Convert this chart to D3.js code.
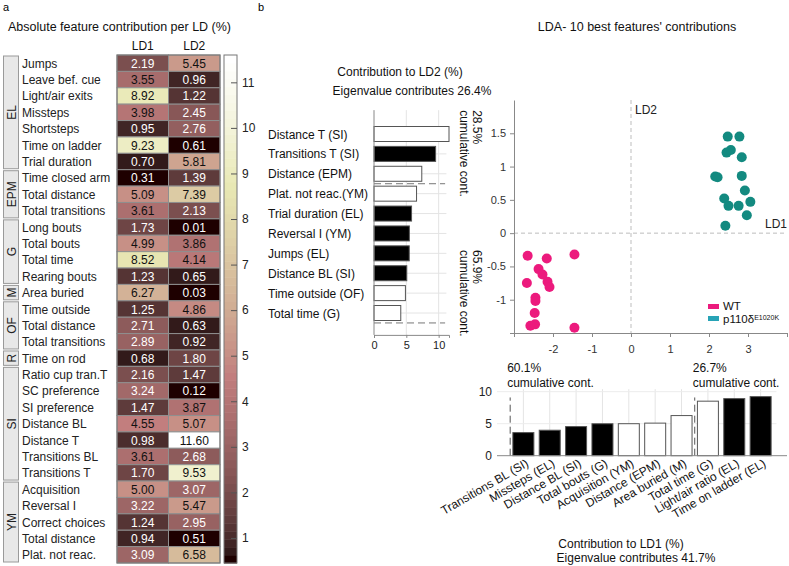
<!DOCTYPE html>
<html><head><meta charset="utf-8">
<script src="https://cdn.jsdelivr.net/npm/d3@7"></script>
<style>
html,body{margin:0;padding:0;background:#fff;}
svg{display:block;font-family:"Liberation Sans",Arial,sans-serif;}
</style></head>
<body>
<svg id="chart" width="789" height="566"></svg>
<script>
// ---------- DATA ----------
const hmFeatures = ["Jumps","Leave bef. cue","Light/air exits","Missteps","Shortsteps","Time on ladder","Trial duration",
  "Time closed arm","Total distance","Total transitions",
  "Long bouts","Total bouts","Total time","Rearing bouts",
  "Area buried",
  "Time outside","Total distance","Total transitions",
  "Time on rod",
  "Ratio cup tran.T","SC preference","SI preference","Distance BL","Distance T","Transitions BL","Transitions T",
  "Acquisition","Reversal I","Correct choices","Total distance","Plat. not reac."];
const hmLD1 = [2.19,3.55,8.92,3.98,0.95,9.23,0.70,0.31,5.09,3.61,1.73,4.99,8.52,1.23,6.27,1.25,2.71,2.89,0.68,2.16,3.24,1.47,4.55,0.98,3.61,1.70,5.00,3.22,1.24,0.94,3.09];
const hmLD2 = [5.45,0.96,1.22,2.45,2.76,0.61,5.81,1.39,7.39,2.13,0.01,3.86,4.14,0.65,0.03,4.86,0.63,0.92,1.80,1.47,0.12,3.87,5.07,11.60,2.68,9.53,3.07,5.47,2.95,0.51,6.58];
const hmGroups = ["EL","EPM","G","M","OF","R","SI","YM"];
const hmGroupSizes = [7,3,4,1,3,1,7,5];
const hmColumns = ["LD1","LD2"];
const cbTicks = [1,2,3,4,5,6,7,8,9,10,11];

const ld2Features = ["Distance T (SI)","Transitions T (SI)","Distance (EPM)","Plat. not reac.(YM)","Trial duration (EL)","Reversal I (YM)","Jumps (EL)","Distance BL (SI)","Time outside (OF)","Total time (G)"];
const ld2Values = [11.60,9.53,7.39,6.58,5.81,5.47,5.45,5.07,4.86,4.14];
const ld2Filled = [0,1,0,0,1,1,1,1,0,0];
const ld2Ticks = [0,5,10];

const ld1Features = ["Transitions BL (SI)","Missteps (EL)","Distance BL (SI)","Total bouts (G)","Acquisition (YM)","Distance (EPM)","Area buried (M)","Total time (G)","Light/air ratio (EL)","Time on ladder (EL)"];
const ld1Values = [3.61,3.98,4.55,4.99,5.00,5.09,6.27,8.52,8.92,9.23];
const ld1Filled = [1,1,1,1,0,0,0,0,1,1];
const ld1Ticks = [0,5,10];

const wtX = [-2.65,-2.16,-1.45,-2.37,-2.27,-2.67,-2.14,-2.09,-2.45,-2.45,-2.47,-2.58,-2.46,-1.45];
const wtY = [-0.34,-0.38,-0.32,-0.54,-0.62,-0.75,-0.73,-0.81,-0.97,-1.02,-1.20,-1.39,-1.37,-1.42];
const mutX = [2.48,2.78,2.45,2.56,2.84,2.16,2.22,2.84,2.92,2.39,2.50,2.76,3.06,2.97,2.42];
const mutY = [1.45,1.45,1.21,1.25,1.14,0.85,0.84,0.86,0.64,0.52,0.41,0.41,0.47,0.27,0.11];
const scXTicks = [-3,-2,-1,0,1,2,3,4];
const scYTicks = [-1.5,-1,-0.5,0,0.5,1,1.5];

// ---------- HELPERS ----------
const svg = d3.select("#chart");
const FONT = "12px";
function pinkColor(t){
  const m=64, n=24;
  const i = Math.max(0, Math.min(m-1, Math.floor(t*m)));
  const rh = i < n ? (i+1)/n : 1;
  const gh = i < n ? 0 : (i < 2*n ? (i-n+1)/n : 1);
  const bh = i < 2*n ? 0 : (i-2*n+1)/(m-2*n);
  const g = i/(m-1);
  const f = v => Math.round(255*Math.sqrt((2*g+v)/3));
  return `rgb(${f(rh)},${f(gh)},${f(bh)})`;
}

// panel letters & titles
svg.append("text").attr("x",3).attr("y",11).attr("font-size","11px").text("a");
svg.append("text").attr("x",258).attr("y",11).attr("font-size","11px").text("b");
svg.append("text").attr("x",8).attr("y",31).attr("font-size","12.5px").attr("fill","#111").text("Absolute feature contribution per LD (%)");
svg.append("text").attr("x",637).attr("y",31).attr("font-size","12.5px").attr("text-anchor","middle").attr("fill","#111").text("LDA- 10 best features' contributions");

// ---------- HEATMAP ----------
const hmTop = 55, hmBot = 563;
const rowY = d3.scaleBand().domain(d3.range(hmFeatures.length)).range([hmTop, hmBot]);
const colX = d3.scaleBand().domain(hmColumns).range([117, 220]);
const cVal = d3.scaleLinear().domain([0.45, 11.6]).range([0,1]).clamp(true);

const hm = svg.append("g");
[hmLD1, hmLD2].forEach((vals, ci) => {
  const col = hmColumns[ci];
  hm.selectAll(null).data(vals).enter().append("rect")
    .attr("x", colX(col)).attr("y", (d,i)=>rowY(i))
    .attr("width", colX.bandwidth()).attr("height", rowY.bandwidth())
    .attr("fill", d=>pinkColor(cVal(d))).attr("stroke","#8f8f8f").attr("stroke-width",1);
  hm.selectAll(null).data(vals).enter().append("text")
    .attr("x", colX(col)+colX.bandwidth()/2).attr("y", (d,i)=>rowY(i)+rowY.bandwidth()/2+4.5)
    .attr("text-anchor","middle").attr("font-size",FONT)
    .attr("fill", d=> d<3.5 ? "#fff" : "#111")
    .text(d=>d.toFixed(2));
});
hm.append("rect").attr("x",117).attr("y",hmTop).attr("width",103).attr("height",hmBot-hmTop)
  .attr("fill","none").attr("stroke","#777").attr("stroke-width",1);
hmColumns.forEach(c=>{
  hm.append("text").attr("x",colX(c)+colX.bandwidth()/2).attr("y",50).attr("text-anchor","middle")
    .attr("font-size",FONT).attr("fill","#111").text(c);
});
hm.selectAll(null).data(hmFeatures).enter().append("text")
  .attr("x",22).attr("y",(d,i)=>rowY(i)+rowY.bandwidth()/2+4.5)
  .attr("font-size",FONT).attr("fill","#222").text(d=>d);
// group boxes
let start = 0;
hmGroups.forEach((g,gi)=>{
  const n = hmGroupSizes[gi];
  const y0 = rowY(start)+1, y1 = rowY(start+n-1)+rowY.bandwidth()-1;
  hm.append("rect").attr("x",3.5).attr("y",y0).attr("width",15).attr("height",y1-y0)
    .attr("fill","#e8e8e8").attr("stroke","#9a9a9a").attr("stroke-width",1);
  const cy = (y0+y1)/2;
  hm.append("text").attr("transform",`translate(15.5,${cy}) rotate(-90)`)
    .attr("text-anchor","middle").attr("font-size",FONT).attr("fill","#222").text(g);
  start += n;
});
// colorbar
const cbY = d3.scaleLinear().domain([0.45, 11.6]).range([hmBot, hmTop]);
const nLev = 64;
const cb = svg.append("g");
d3.range(nLev).forEach(k=>{
  const v0 = 0.45 + (11.6-0.45)*k/nLev, v1 = 0.45 + (11.6-0.45)*(k+1)/nLev;
  cb.append("rect").attr("x",224).attr("y",cbY(v1)).attr("width",13).attr("height",cbY(v0)-cbY(v1)+0.5)
    .attr("fill",pinkColor((k+0.5)/nLev));
});
cb.append("rect").attr("x",224).attr("y",hmTop).attr("width",13).attr("height",hmBot-hmTop)
  .attr("fill","none").attr("stroke","#777");
const cbAxis = cb.append("g").attr("transform","translate(237,0)")
  .call(d3.axisRight(cbY).tickValues(cbTicks).tickSize(-6).tickPadding(5).tickFormat(d=>String(d)));
cbAxis.select(".domain").remove();
cbAxis.selectAll("line").attr("stroke","#555");
cbAxis.selectAll("text").attr("font-size",FONT).attr("fill","#222").attr("font-family","Liberation Sans,Arial,sans-serif");

// ---------- LD2 BAR CHART ----------
const b2x = d3.scaleLinear().domain([0, 11.6]).range([374, 449]);
const b2y = d3.scaleLinear().domain([0, 9]).range([134, 313]);
const b2top = b2y(-1.2), b2bot = b2y(10.1);
const g2 = svg.append("g");
ld2Ticks.filter(t=>t>0).forEach(t=>{
  g2.append("line").attr("x1",b2x(t)).attr("x2",b2x(t)).attr("y1",b2top).attr("y2",b2bot).attr("stroke","#e4e4e4");
});
ld2Values.forEach((v,i)=>{
  g2.append("line").attr("x1",b2x(0)).attr("x2",b2x(11.2)).attr("y1",b2y(i)).attr("y2",b2y(i)).attr("stroke","#e4e4e4");
});
g2.selectAll(null).data(ld2Values).enter().append("rect")
  .attr("x",b2x(0)).attr("y",(d,i)=>b2y(i)-7.5).attr("width",d=>b2x(d)-b2x(0)).attr("height",15)
  .attr("fill",(d,i)=>ld2Filled[i]?"#000":"#fff").attr("stroke","#555").attr("stroke-width",1);
[2.5, 9.5].forEach(p=>{
  g2.append("line").attr("x1",b2x(0)).attr("x2",b2x(11)).attr("y1",b2y(p)).attr("y2",b2y(p))
    .attr("stroke","#777").attr("stroke-dasharray","7,4");
});
g2.append("line").attr("x1",b2x(0)).attr("x2",b2x(0)).attr("y1",b2top).attr("y2",b2bot).attr("stroke","#888");
const b2axis = g2.append("g").attr("transform",`translate(0,${b2bot})`)
  .call(d3.axisBottom(b2x).tickValues(ld2Ticks).tickSize(3).tickPadding(3).tickFormat(d=>String(d)));
b2axis.select(".domain").attr("stroke","#888");
b2axis.selectAll("line").attr("stroke","#888");
b2axis.selectAll("text").attr("font-size","11px").attr("fill","#222").attr("font-family","Liberation Sans,Arial,sans-serif");
g2.selectAll(null).data(ld2Features).enter().append("text")
  .attr("x",268).attr("y",(d,i)=>b2y(i)+4.5).attr("font-size",FONT).attr("fill","#111").text(d=>d);
g2.append("text").attr("x",400).attr("y",76).attr("text-anchor","middle").attr("font-size",FONT).attr("fill","#111").text("Contribution to LD2 (%)");
g2.append("text").attr("x",412).attr("y",95).attr("text-anchor","middle").attr("font-size",FONT).attr("fill","#111").text("Eigenvalue contributes 26.4%");
[[b2top, "28.5%"], [250, "65.9%"]].forEach(([yy, txt])=>{
  g2.append("text").attr("transform",`translate(473,${yy}) rotate(90)`).attr("font-size",FONT).attr("fill","#111").text(txt);
  g2.append("text").attr("transform",`translate(460,${yy}) rotate(90)`).attr("font-size",FONT).attr("fill","#111").text("cumulative cont.");
});

// ---------- SCATTER ----------
const sx = d3.scaleLinear().domain([-3, 4]).range([514, 787]);
const sy = d3.scaleLinear().domain([-1.5, 2]).range([333, 100]);
const gs = svg.append("g");
gs.append("line").attr("x1",sx(0)).attr("x2",sx(0)).attr("y1",sy(2)).attr("y2",sy(-1.5)).attr("stroke","#bdbdbd").attr("stroke-dasharray","4,3");
gs.append("line").attr("x1",sx(-3)).attr("x2",sx(4)).attr("y1",sy(0)).attr("y2",sy(0)).attr("stroke","#bdbdbd").attr("stroke-dasharray","4,3");
const sxa = gs.append("g").attr("transform",`translate(0,${sy(-1.5)})`)
  .call(d3.axisBottom(sx).tickValues(scXTicks).tickSize(4).tickPadding(8).tickSizeOuter(0)
  .tickFormat(d=> (d===-3||d===4) ? "" : String(d)));
const sya = gs.append("g").attr("transform",`translate(${sx(-3)},0)`)
  .call(d3.axisLeft(sy).tickValues(scYTicks).tickSize(4).tickPadding(4).tickSizeOuter(0)
  .tickFormat(d=> d===-1.5 ? "" : String(d)));
[sxa, sya].forEach(a=>{
  a.select(".domain").attr("stroke","#888");
  a.selectAll("line").attr("stroke","#888");
  a.selectAll("text").attr("font-size","11px").attr("fill","#333").attr("font-family","Liberation Sans,Arial,sans-serif");
});
gs.append("text").attr("x",sx(0)+4).attr("y",sy(2)+14).attr("font-size",FONT).attr("fill","#222").text("LD2");
gs.append("text").attr("x",765).attr("y",sy(0)-5).attr("font-size",FONT).attr("fill","#222").text("LD1");
gs.selectAll(null).data(wtX).enter().append("circle")
  .attr("cx",d=>sx(d)).attr("cy",(d,i)=>sy(wtY[i])).attr("r",5).attr("fill","#ec1a7d");
gs.selectAll(null).data(mutX).enter().append("circle")
  .attr("cx",d=>sx(d)).attr("cy",(d,i)=>sy(mutY[i])).attr("r",5).attr("fill","#138a80");
// legend
gs.append("rect").attr("x",708).attr("y",304).attr("width",11).attr("height",5).attr("fill","#ec1a7d");
gs.append("rect").attr("x",708).attr("y",316).attr("width",11).attr("height",5).attr("fill","#27a3b6");
gs.append("text").attr("x",723).attr("y",310).attr("font-size","11.5px").attr("fill","#111").text("WT");
const lt = gs.append("text").attr("x",723).attr("y",323).attr("font-size","11.5px").attr("fill","#111");
lt.append("tspan").text("p110δ");
lt.append("tspan").attr("dy",-3).attr("font-size","7px").text("E1020K");

// ---------- LD1 BAR CHART ----------
const b1x = d3.scaleLinear().domain([-1, 10]).range([497, 787]);
const b1y = d3.scaleLinear().domain([0, 10]).range([455.7, 391.7]);
const g1 = svg.append("g");
ld1Values.forEach((v,i)=>{
  g1.append("line").attr("x1",b1x(i)).attr("x2",b1x(i)).attr("y1",b1y(0)).attr("y2",b1y(10.4)).attr("stroke","#e4e4e4");
});
ld1Ticks.filter(t=>t>0).forEach(t=>{
  g1.append("line").attr("x1",b1x(-1)).attr("x2",b1x(9.6)).attr("y1",b1y(t)).attr("y2",b1y(t)).attr("stroke","#ececec");
});
g1.selectAll(null).data(ld1Values).enter().append("rect")
  .attr("x",(d,i)=>b1x(i)-10.5).attr("y",d=>b1y(d)).attr("width",21).attr("height",d=>b1y(0)-b1y(d))
  .attr("fill",(d,i)=>ld1Filled[i]?"#000":"#fff").attr("stroke","#555").attr("stroke-width",1);
[-0.5, 6.5].forEach(p=>{
  g1.append("line").attr("x1",b1x(p)).attr("x2",b1x(p)).attr("y1",b1y(0)).attr("y2",b1y(9.1))
    .attr("stroke","#555").attr("stroke-dasharray","7,4");
});
const b1ya = g1.append("g").attr("transform",`translate(${b1x(-1)},0)`)
  .call(d3.axisLeft(b1y).tickValues(ld1Ticks).tickSize(0).tickPadding(5).tickFormat(d=>String(d)));
b1ya.select(".domain").remove();
b1ya.selectAll("text").attr("font-size","12px").attr("fill","#222").attr("font-family","Liberation Sans,Arial,sans-serif");
g1.append("line").attr("x1",b1x(-1)).attr("x2",b1x(10)).attr("y1",b1y(0)).attr("y2",b1y(0)).attr("stroke","#888");
g1.selectAll(null).data(ld1Features).enter().append("text")
  .attr("transform",(d,i)=>`translate(${b1x(i)+6},${b1y(0)+10}) rotate(-30)`)
  .attr("text-anchor","end").attr("font-size",FONT).attr("fill","#111").text(d=>d);
[[b1x(-0.5)-3,"60.1%"],[b1x(6.5)-2,"26.7%"]].forEach(([xx,t])=>{
  g1.append("text").attr("x",xx).attr("y",372).attr("font-size",FONT).attr("fill","#111").text(t);
  g1.append("text").attr("x",xx).attr("y",387).attr("font-size",FONT).attr("fill","#111").text("cumulative cont.");
});
g1.append("text").attr("x",621).attr("y",548).attr("text-anchor","middle").attr("font-size",FONT).attr("fill","#111").text("Contribution to LD1 (%)");
g1.append("text").attr("x",636).attr("y",562).attr("text-anchor","middle").attr("font-size",FONT).attr("fill","#111").text("Eigenvalue contributes 41.7%");
</script>
</body></html>
